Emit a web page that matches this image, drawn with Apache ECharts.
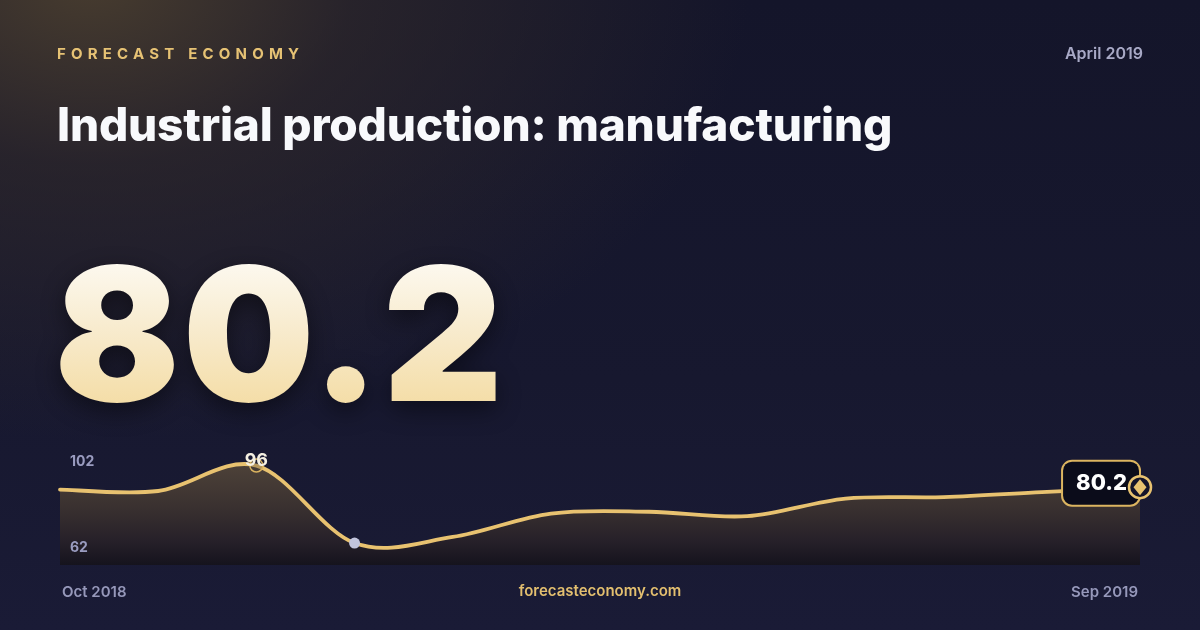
<!DOCTYPE html>
<html>
<head>
<meta charset="utf-8">
<script src="https://cdn.jsdelivr.net/npm/echarts@6/dist/echarts.min.js"></script>
<style>
  html, body { margin: 0; padding: 0; width: 1200px; height: 630px; overflow: hidden; }
  body {
    position: relative;
    font-family: Inter, "Noto Sans", sans-serif;
    background:
      radial-gradient(ellipse 660px 460px at 90px -20px, rgba(74,62,47,0.95) 0%, rgba(52,44,43,0.6) 40%, rgba(22,23,45,0) 100%),
      linear-gradient(180deg, #14152a 0%, #17182f 60%, #1a1b36 100%);
  }
  #chart { position: absolute; left: 0; top: 0; width: 1200px; height: 630px; }
  .brand { position: absolute; left: 57px; top: 46px; font-size: 15px; line-height: 1; font-weight: 700; letter-spacing: 5.2px; color: #e6c274; }
  .date { position: absolute; right: 57px; top: 45px; font-size: 16px; line-height: 1; font-weight: 600; color: #a8a9c6; }
  .title { position: absolute; left: 57px; top: 101px; font-size: 46px; line-height: 1; font-weight: 800; color: #f8f9fc; letter-spacing: -0.2px; white-space: nowrap; }
  .big { position: absolute; left: 54px; top: 241px; font-size: 186px; line-height: 1; font-weight: 900; letter-spacing: 2.3px;
         background: linear-gradient(180deg, #fefdfa 0%, #f8ecd0 45%, #f3d99b 100%);
         -webkit-background-clip: text; background-clip: text; color: transparent;
         filter: drop-shadow(0 8px 12px rgba(0,0,0,0.45)); }
</style>
</head>
<body>
<div id="chart"></div>
<div class="brand">FORECAST ECONOMY</div>
<div class="date">April 2019</div>
<div class="title">Industrial production: manufacturing</div>
<div class="big" id="big"></div>
<script>
// ---- data ----
const months = ['Oct 2018','Nov 2018','Dec 2018','Jan 2019','Feb 2019','Mar 2019','Apr 2019','May 2019','Jun 2019','Jul 2019','Aug 2019','Sep 2019'];
const values = [87.8, 87.3, 96.0, 69.5, 71.6, 79.6, 80.2, 78.7, 84.7, 85.2, 86.9, 88.6];
const axisMin = 62;
const axisMax = 102;
const headlineValue = 80.2;
const siteLabel = 'forecasteconomy.com';

document.getElementById('big').textContent = headlineValue.toFixed(1);

const last = values.length - 1;
const maxIdx = values.indexOf(Math.max(...values));
const minIdx = values.indexOf(Math.min(...values));
const gold = '#e8c270';
const seriesData = values.map((v, i) => [i, v]);

// Catmull-Rom spline through the points given by the library's coordinate system
function splinePath(pts) {
  let d = 'M' + pts[0][0] + ' ' + pts[0][1];
  for (let i = 0; i < pts.length - 1; i++) {
    const p0 = pts[Math.max(i - 1, 0)], p1 = pts[i], p2 = pts[i + 1], p3 = pts[Math.min(i + 2, pts.length - 1)];
    const c1x = p1[0] + (p2[0] - p0[0]) / 6, c1y = p1[1] + (p2[1] - p0[1]) / 6;
    const c2x = p2[0] - (p3[0] - p1[0]) / 6, c2y = p2[1] - (p3[1] - p1[1]) / 6;
    d += ' C' + c1x + ' ' + c1y + ' ' + c2x + ' ' + c2y + ' ' + p2[0] + ' ' + p2[1];
  }
  return d;
}

const chart = echarts.init(document.getElementById('chart'), null, { renderer: 'canvas' });
chart.setOption({
  backgroundColor: 'transparent',
  animation: false,
  grid: { left: 60, right: 60, top: 448, bottom: 65 },
  xAxis: {
    type: 'category',
    data: months,
    boundaryGap: false,
    axisLine: { show: false },
    axisTick: { show: false },
    axisLabel: {
      interval: (i) => i === 0 || i === last,
      showMinLabel: true,
      showMaxLabel: true,
      alignMinLabel: 'left',
      alignMaxLabel: 'right',
      padding: [0, 2, 0, 2],
      color: '#9698ba',
      fontFamily: 'Inter',
      fontSize: 15,
      fontWeight: 600,
      margin: 20
    }
  },
  yAxis: {
    type: 'value',
    min: axisMin,
    max: axisMax,
    show: false,
    splitLine: { show: false }
  },
  graphic: [
    { type: 'text', left: 70, top: 455, z: 5, style: { text: String(axisMax), fill: '#9a9cc0', font: '700 14px Inter' } },
    { type: 'text', left: 70, top: 541, z: 5, style: { text: String(axisMin), fill: '#9a9cc0', font: '700 14px Inter' } },
    { type: 'text', left: 'center', top: 584, z: 5, style: { text: siteLabel, fill: '#e3bf6f', font: '600 15px Inter' } }
  ],
  series: [
    {
      type: 'custom',
      name: 'Industrial production',
      data: seriesData,
      encode: { x: 0, y: 1 },
      z: 2,
      silent: true,
      renderItem: (params, api) => {
        if (params.dataIndex !== 0) return null;
        const pts = seriesData.map((d) => api.coord(d));
        const baseY = api.coord([0, axisMin])[1];
        const topY = api.coord([0, axisMax])[1];
        const lineD = splinePath(pts);
        const areaD = lineD + ' L' + pts[pts.length - 1][0] + ' ' + baseY + ' L' + pts[0][0] + ' ' + baseY + ' Z';
        return {
          type: 'group',
          children: [
            {
              type: 'path',
              shape: { pathData: areaD },
              style: {
                fill: {
                  type: 'linear', x: 0, y: topY, x2: 0, y2: baseY, global: true,
                  colorStops: [
                    { offset: 0, color: '#52463a' },
                    { offset: 0.2, color: '#4a3f37' },
                    { offset: 0.5, color: '#3a3130' },
                    { offset: 0.8, color: '#262029' },
                    { offset: 1, color: '#15131d' }
                  ]
                },
                stroke: null
              }
            },
            {
              type: 'path',
              shape: { pathData: lineD },
              style: { fill: 'none', stroke: gold, lineWidth: 3.8, lineJoin: 'round', lineCap: 'round' }
            }
          ]
        };
      }
    },
    {
      type: 'scatter',
      z: 3,
      data: [[maxIdx, values[maxIdx]]],
      symbol: 'circle',
      symbolSize: 13,
      itemStyle: { color: 'rgba(60,50,45,0.3)', borderColor: '#d9b25f', borderWidth: 1.5, opacity: 1 },
      label: {
        show: true, position: 'inside', offset: [0, -5],
        formatter: (p) => String(Math.round(p.value[1])),
        color: '#f5f0e2', fontFamily: 'Inter', fontWeight: 700, fontSize: 18
      }
    },
    {
      type: 'scatter',
      z: 3,
      data: [[minIdx, values[minIdx]]],
      symbol: 'circle',
      symbolSize: 11,
      itemStyle: { color: '#c2c5dd', opacity: 1 }
    },
    {
      type: 'scatter',
      z: 4,
      data: [[last, values[last]]],
      symbol: 'circle',
      symbolSize: 2,
      itemStyle: { color: 'transparent', opacity: 1 },
      label: {
        show: true, position: 'left', distance: 0, offset: [0, -4],
        formatter: () => headlineValue.toFixed(1),
        color: '#ffffff', fontFamily: 'Inter', fontWeight: 800, fontSize: 22, lineHeight: 22,
        backgroundColor: '#0b0c1a', borderColor: '#dcb560', borderWidth: 2, borderRadius: 9,
        padding: [11, 12, 10, 13]
      }
    },
    {
      type: 'scatter',
      z: 5,
      data: [[last, values[last]]],
      symbol: 'circle',
      symbolSize: 22,
      itemStyle: { color: '#14142a', borderColor: gold, borderWidth: 2.5, opacity: 1 }
    },
    {
      type: 'scatter',
      z: 6,
      data: [[last, values[last]]],
      symbol: 'diamond',
      symbolSize: [13, 16],
      itemStyle: { color: gold, opacity: 1 }
    }
  ]
});
</script>
</body>
</html>
